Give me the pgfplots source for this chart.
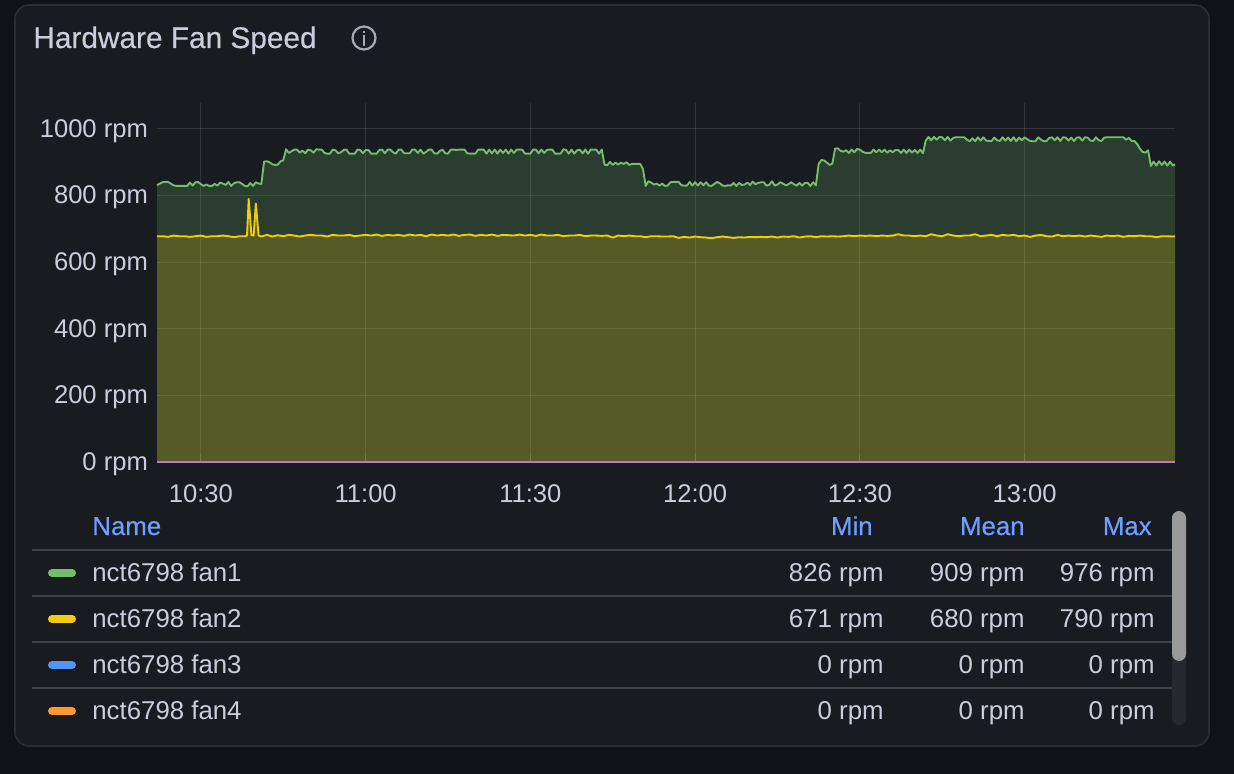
\documentclass[border=0pt]{standalone}
\usepackage{pgfplots}
\usepackage{pgfplotstable}
\usepackage{fontspec}
\pgfplotsset{compat=1.18}
\setmainfont{Liberation Sans}
\newfontfamily\medfont[FakeBold=0.4]{Liberation Sans}
\definecolor{pagebg}{HTML}{111217}
\definecolor{panelbg}{HTML}{181B1F}
\definecolor{panelln}{HTML}{2B2D32}
\definecolor{txt}{HTML}{CCCCDC}
\definecolor{hdr}{HTML}{6E9FFF}
\definecolor{rule}{HTML}{3F4146}
\definecolor{fanA}{HTML}{73BF69}
\definecolor{fanB}{HTML}{F2CC0C}
\definecolor{fanC}{HTML}{5794F2}
\definecolor{fanD}{HTML}{FF9830}
\definecolor{fanE}{HTML}{B877D9}

\pgfplotstableread[row sep=\\]{
t v\\
622 831\\622.5 836\\623 840\\623.5 841\\624 841\\624.5 836\\625 831\\625.5 829\\626 829\\626.5 829\\
627 829\\627.5 829\\628 839\\628.5 830\\629 840\\629.5 841\\630 834\\630.5 829\\631 833\\631.5 829\\
632 829\\632.5 835\\633 830\\633.5 839\\634 836\\634.5 832\\635 841\\635.5 829\\636 837\\636.5 840\\
637 840\\637.5 835\\638 829\\638.5 828\\639 838\\639.5 829\\640 840\\640.5 836\\641 835\\641.5 902\\
642 903\\642.5 900\\643 894\\643.5 892\\644 893\\644.5 903\\645 906\\645.5 939\\646 928\\646.5 933\\
647 938\\647.5 938\\648 929\\648.5 935\\649 927\\649.5 938\\650 936\\650.5 929\\651 939\\651.5 938\\
652 938\\652.5 928\\653 926\\653.5 926\\654 938\\654.5 936\\655 927\\655.5 930\\656 937\\656.5 938\\
657 926\\657.5 926\\658 926\\658.5 938\\659 937\\659.5 927\\660 937\\660.5 937\\661 926\\661.5 926\\
662 926\\662.5 937\\663 938\\663.5 927\\664 938\\664.5 938\\665 930\\665.5 926\\666 938\\666.5 938\\
667 927\\667.5 927\\668 927\\668.5 938\\669 938\\669.5 928\\670 938\\670.5 926\\671 931\\671.5 938\\
672 938\\672.5 927\\673 926\\673.5 934\\674 938\\674.5 927\\675 926\\675.5 938\\676 938\\676.5 937\\
677 938\\677.5 938\\678 938\\678.5 927\\679 926\\679.5 926\\680 926\\680.5 938\\681 938\\681.5 938\\
682 926\\682.5 938\\683 927\\683.5 938\\684 926\\684.5 938\\685 928\\685.5 938\\686 926\\686.5 938\\
687 928\\687.5 938\\688 938\\688.5 938\\689 926\\689.5 926\\690 926\\690.5 938\\691 938\\691.5 927\\
692 938\\692.5 928\\693 937\\693.5 938\\694 938\\694.5 926\\695 926\\695.5 926\\696 939\\696.5 937\\
697 926\\697.5 938\\698 926\\698.5 936\\699 938\\699.5 927\\700 938\\700.5 926\\701 938\\701.5 938\\
702 938\\702.5 926\\703 938\\703.5 893\\704 891\\704.5 901\\705 892\\705.5 899\\706 893\\706.5 899\\
707 895\\707.5 900\\708 892\\708.5 895\\709 895\\709.5 895\\710 895\\710.5 880\\711 829\\711.5 843\\
712 839\\712.5 833\\713 836\\713.5 830\\714 836\\714.5 829\\715 830\\715.5 840\\716 841\\716.5 841\\
717 841\\717.5 831\\718 830\\718.5 830\\719 841\\719.5 830\\720 840\\720.5 830\\721 840\\721.5 831\\
722 840\\722.5 830\\723 829\\723.5 835\\724 841\\724.5 837\\725 830\\725.5 829\\726 831\\726.5 830\\
727 838\\727.5 829\\728 838\\728.5 832\\729 833\\729.5 839\\730 832\\730.5 842\\731 834\\731.5 838\\
732 840\\732.5 840\\733 830\\733.5 832\\734 843\\734.5 830\\735 833\\735.5 840\\736 836\\736.5 831\\
737 834\\737.5 840\\738 834\\738.5 830\\739 838\\739.5 830\\740 838\\740.5 838\\741 829\\741.5 840\\
742 831\\742.5 895\\743 907\\743.5 905\\744 899\\744.5 892\\745 896\\745.5 941\\746 942\\746.5 934\\
747 932\\747.5 936\\748 928\\748.5 938\\749 930\\749.5 940\\750 938\\750.5 932\\751 928\\751.5 928\\
752 928\\752.5 938\\753 930\\753.5 938\\754 930\\754.5 938\\755 929\\755.5 936\\756 930\\756.5 937\\
757 937\\757.5 928\\758 938\\758.5 928\\759 938\\759.5 929\\760 937\\760.5 928\\761 938\\761.5 927\\
762 965\\762.5 976\\763 966\\763.5 976\\764 968\\764.5 976\\765 975\\765.5 966\\766 976\\766.5 965\\
767 973\\767.5 975\\768 975\\768.5 975\\769 975\\769.5 968\\770 963\\770.5 972\\771 963\\771.5 975\\
772 965\\772.5 975\\773 965\\773.5 964\\774 964\\774.5 974\\775 966\\775.5 964\\776 975\\776.5 965\\
777 974\\777.5 964\\778 975\\778.5 963\\779 974\\779.5 966\\780 975\\780.5 969\\781 964\\781.5 963\\
782 963\\782.5 975\\783 968\\783.5 963\\784 964\\784.5 973\\785 975\\785.5 966\\786 975\\786.5 964\\
787 975\\787.5 974\\788 965\\788.5 974\\789 964\\789.5 974\\790 975\\790.5 965\\791 975\\791.5 974\\
792 965\\792.5 964\\793 975\\793.5 966\\794 964\\794.5 974\\795 975\\795.5 975\\796 975\\796.5 975\\
797 975\\797.5 975\\798 975\\798.5 968\\799 973\\799.5 964\\800 964\\800.5 955\\801 941\\801.5 931\\
802 929\\802.5 936\\803 889\\803.5 902\\804 890\\804.5 903\\805 892\\805.5 902\\806 890\\806.5 902\\
807 890\\807.4 894\\
}\fanone

\pgfplotstableread[row sep=\\]{
t v\\
622 678\\623 678\\624 676\\625 680\\626 678\\627 678\\628 676\\629 678\\630 680\\631 676\\632 678\\633 678\\
634 680\\635 678\\636 675\\637 678\\638 678\\638.4 680\\638.7 790\\639.2 681\\639.6 680\\640 776\\640.5 680\\641 677\\
642 682\\643 677\\644 681\\645 678\\646 682\\647 680\\648 677\\649 680\\650 682\\651 680\\652 680\\653 677\\
654 682\\655 680\\656 680\\657 682\\658 678\\659 680\\660 682\\661 680\\662 683\\663 679\\664 682\\665 680\\
666 682\\667 679\\668 683\\669 680\\670 682\\671 678\\672 683\\673 680\\674 682\\675 680\\676 683\\677 679\\
678 682\\679 683\\680 679\\681 682\\682 680\\683 683\\684 679\\685 682\\686 681\\687 680\\688 683\\689 680\\
690 682\\691 679\\692 683\\693 680\\694 680\\695 682\\696 678\\697 680\\698 680\\699 682\\700 678\\701 680\\
702 680\\703 679\\704 680\\705 674\\706 680\\707 678\\708 680\\709 678\\710 678\\711 675\\712 678\\713 678\\
714 677\\715 677\\716 678\\717 673\\718 676\\719 674\\720 677\\721 675\\722 674\\723 672\\724 675\\725 677\\
726 675\\727 673\\728 675\\729 674\\730 676\\731 675\\732 676\\733 675\\734 677\\735 674\\736 677\\737 676\\
738 678\\739 674\\740 677\\741 678\\742 675\\743 678\\744 677\\745 678\\746 677\\747 678\\748 680\\749 678\\
750 680\\751 679\\752 680\\753 678\\754 680\\755 679\\756 680\\757 684\\758 680\\759 680\\760 678\\761 680\\
762 678\\763 684\\764 680\\765 678\\766 684\\767 680\\768 678\\769 680\\770 680\\771 684\\772 678\\773 680\\
774 682\\775 678\\776 682\\777 680\\778 682\\779 678\\780 680\\781 676\\782 680\\783 682\\784 678\\785 677\\
786 682\\787 678\\788 680\\789 678\\790 680\\791 677\\792 680\\793 678\\794 676\\795 680\\796 678\\797 680\\
798 676\\799 679\\800 678\\801 680\\802 678\\803 678\\804 675\\805 678\\806 678\\807 677\\807.4 678\\
}\fantwo

\begin{document}
\begin{tikzpicture}
\begin{scope}[x=0.5pt,y=-0.5pt]
\path[use as bounding box] (0,0) rectangle (1234,774);
\fill[pagebg] (0,0) rectangle (1234,774);
\draw[panelln,fill=panelbg,line width=0.8pt,rounded corners=7pt] (15,5) rectangle (1209,746);
\node[anchor=base west,inner sep=0,text=txt] at (33,48) {\fontsize{14.9}{16}\medfont Hardware Fan Speed};
\draw[txt!80!panelbg,line width=1.1pt] (364,38) circle (11.5);
\node[inner sep=0,text=txt!80!panelbg] at (364,38.5) {\fontsize{10}{10}\medfont i};
\foreach \yy in {550,596,642,688} {\draw[rule,line width=0.8pt] (32,\yy) -- (1172,\yy);}
\fill[rounded corners=3.5pt,fill=panelln!70!panelbg] (1172,511) rectangle (1186,725);
\fill[rounded corners=3.5pt,fill=black!40!white] (1172,511) rectangle (1186,661);
\end{scope}

\begin{axis}[
  at={(78.5pt,-231pt)},anchor=south west,
  scale only axis,width=509pt,height=179.5pt,
  xmin=622,xmax=807.4,ymin=0,ymax=1078,
  clip=false,
  axis line style={draw=none},
  xtick={630,660,690,720,750,780},
  xticklabels={10:30,11:00,11:30,12:00,12:30,13:00},
  ytick={0,200,400,600,800,1000},
  yticklabels={0 rpm,200 rpm,400 rpm,600 rpm,800 rpm,1000 rpm},
  tick label style={text=txt,font=\fontsize{12.8}{14}\selectfont},
  xtick pos=bottom,ytick pos=left,
  xmajorgrids,ymajorgrids,
  grid style={white,opacity=0.11,line width=0.5pt},
  major tick style={white,opacity=0.11,line width=0.5pt},
  x tick style={white,opacity=0.11,line width=0.5pt},
  major tick length=4pt,
  y tick style={draw=none},
  xticklabel style={yshift=-8pt},
  yticklabel style={xshift=-1pt,yshift=-1pt},
]
\addplot[draw=none,fill=fanA,fill opacity=0.21] table[x=t,y=v] {\fanone} \closedcycle;
\addplot[draw=none,fill=fanB,fill opacity=0.21] table[x=t,y=v] {\fantwo} \closedcycle;
\addplot[fanA,line width=0.95pt,line join=round] table[x=t,y=v] {\fanone};
\addplot[fanB,line width=0.95pt,line join=round] table[x=t,y=v] {\fantwo};
\addplot[fanC,line width=0.9pt] coordinates {(622,0)(807.4,0)};
\addplot[fanD,line width=0.9pt] coordinates {(622,0)(807.4,0)};
\addplot[fanE,line width=0.9pt] coordinates {(622,0)(807.4,0)};
\end{axis}

\begin{scope}[x=0.5pt,y=-0.5pt,every node/.style={inner sep=0,font=\fontsize{12.9}{14}\selectfont}]
\node[anchor=base west,text=hdr] at (92,535) {\medfont Name};
\node[anchor=base east,text=hdr] at (873,535) {\medfont Min};
\node[anchor=base east,text=hdr] at (1025,535) {\medfont Mean};
\node[anchor=base east,text=hdr] at (1152,535) {\medfont Max};
\foreach \bl/\cc/\nm/\mi/\me/\ma in {581/fanA/fan1/826/909/976,627/fanB/fan2/671/680/790,673/fanC/fan3/0/0/0,719/fanD/fan4/0/0/0} {
  \draw[\cc,line width=4pt,line cap=round] (52,\bl-8) -- (72,\bl-8);
  \node[anchor=base west,text=txt] at (92,\bl) {nct6798 \nm};
  \node[anchor=base east,text=txt] at (884,\bl) {\mi{} rpm};
  \node[anchor=base east,text=txt] at (1025,\bl) {\me{} rpm};
  \node[anchor=base east,text=txt] at (1155,\bl) {\ma{} rpm};
}
\end{scope}
\end{tikzpicture}
\end{document}
